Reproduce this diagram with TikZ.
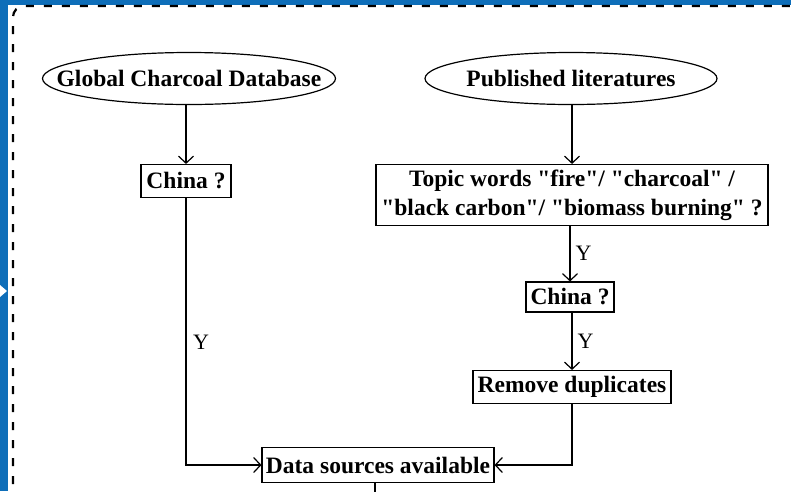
\documentclass[tikz,border=0pt]{standalone}
\usepackage{fontspec}
\setmainfont{Liberation Serif}[Ligatures=TeXOff]
\usetikzlibrary{shapes.geometric,arrows.meta}
\definecolor{frameblue}{RGB}{14,110,185}
\begin{document}
\begin{tikzpicture}[x=1pt,y=-1pt,
  txt/.style={font=\bfseries\fontsize{23.5}{29}\selectfont},
  oval/.style={ellipse,draw,line width=1.2pt,inner sep=0pt},
  box/.style={draw,line width=1.1pt,inner sep=0pt,txt,align=center},
  conn/.style={line width=1.2pt,-{Straight Barb[length=7pt,width=15pt,line width=1.2pt]}},
  plain/.style={line width=1.2pt},
  ylab/.style={font=\fontsize{22}{26}\selectfont,anchor=west,inner sep=0pt}]
\useasboundingbox (0,0) rectangle (791,491);
\clip (0,0) rectangle (791,491);
\fill[frameblue] (0,0) rectangle (791,491);
\fill[white] (8,5) rectangle (800,500);
\fill[white] (0,285) -- (7,291) -- (0,297) -- cycle;
\draw[line width=2.2pt,dash pattern=on 8pt off 10pt,rounded corners=11pt] (13,520) -- (13,6) -- (820,6);

\node[oval,minimum width=293pt,minimum height=52pt] (gcd) at (189,78.5) {};
\node[txt] (gcdt) at (gcd.center) {Global Charcoal Database};
\node[oval,minimum width=292pt,minimum height=52pt] (pub) at (571,78.5) {};
\node[txt] (pubt) at (pub.center) {Published literatures};
\node[box,minimum width=90pt,minimum height=33pt] (china1) at (186,181) {China ?};
\node[box,minimum width=392pt,minimum height=61pt] (topic) at (572,195) {Topic words "fire"/ "charcoal" /\\ "black carbon"/ "biomass burning" ?};
\node[box,minimum width=88pt,minimum height=30pt] (china2) at (570,297) {China ?};
\node[box,minimum width=198pt,minimum height=33pt] (dup) at (572,387) {Remove duplicates};
\node[box,minimum width=232pt,minimum height=35pt] (data) at (378,465) {Data sources available};
\coordinate (down) at (375,495);
\coordinate (yl) at (193,342);

\draw[conn] (gcd.south -| china1.north) -- (china1.north);
\draw[conn] (pub.south -| topic.north) -- (topic.north);
\draw[conn] (topic.south -| china2.north) -- (china2.north) node[ylab,pos=0.5,xshift=5pt] {Y};
\draw[conn] (china2.south -| dup.north) -- (dup.north) node[ylab,pos=0.5,xshift=5pt] {Y};
\draw[conn] (china1.south) |- (data.west);
\node[ylab] (ylabel) at (yl) {Y};
\draw[conn] (dup.south) |- (data.east);
\draw[plain] (data.south -| down) -- (down);
\end{tikzpicture}
\end{document}
